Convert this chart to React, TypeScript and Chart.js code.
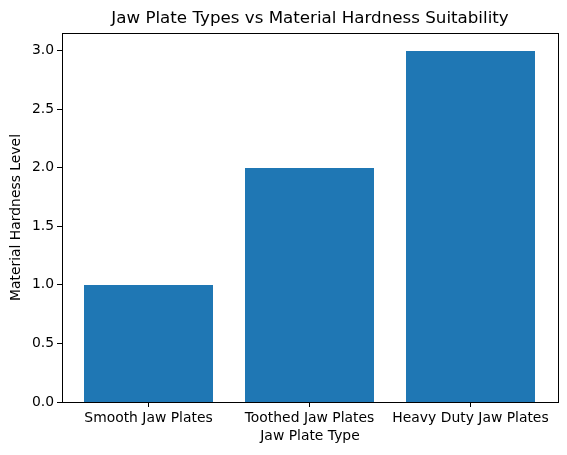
import { useEffect, useRef } from "react"
import { Chart, registerables } from "chart.js"

Chart.register(...registerables)

const plateTypes = ["Smooth Jaw Plates", "Toothed Jaw Plates", "Heavy Duty Jaw Plates"]
const hardnessLevels = [1, 2, 3]
const yTicks = [0, 0.5, 1.0, 1.5, 2.0, 2.5, 3.0]

const FONT = "'DejaVu Sans', sans-serif"

// draw the full box round the plot area, like matplotlib's spines
const frame = {
  id: "frame",
  afterDatasetsDraw(chart: Chart) {
    const { ctx, chartArea } = chart
    ctx.save()
    ctx.strokeStyle = "#000"
    ctx.lineWidth = 1
    ctx.strokeRect(
      Math.round(chartArea.left) + 0.5,
      Math.round(chartArea.top) + 0.5,
      Math.round(chartArea.right - chartArea.left),
      Math.round(chartArea.bottom - chartArea.top)
    )
    ctx.restore()
  },
}

// snap bar edges to whole pixels so they come out crisp
const snapBars = {
  id: "snapBars",
  beforeDatasetsDraw(chart: Chart) {
    chart.getSortedVisibleDatasetMetas().forEach((meta) => {
      meta.data.forEach((el: any) => {
        el.x = Math.round(el.x - 0.5) + 0.5
        el.y = Math.round(el.y)
        el.base = Math.round(el.base)
        el.width = Math.round(el.width)
      })
    })
  },
}

export default function App() {
  const chartRef = useRef<HTMLCanvasElement>(null)
  const chartInstance = useRef<Chart | null>(null)

  useEffect(() => {
    if (!chartRef.current) return
    if (chartInstance.current) chartInstance.current.destroy()
    const ctx = chartRef.current.getContext("2d")
    if (!ctx) return

    chartInstance.current = new Chart(ctx, {
      type: "bar",
      data: {
        datasets: [
          {
            data: hardnessLevels.map((v, i) => ({ x: i, y: v })),
            backgroundColor: "#1f77b4",
            borderColor: "#1f77b4",
            borderWidth: 0,
            inflateAmount: 0,
            barThickness: 129,
          },
        ],
      },
      plugins: [snapBars, frame],
      options: {
        responsive: false,
        animation: false,
        devicePixelRatio: 1,
        layout: { padding: { left: 0, right: 9, top: 0, bottom: 0 } },
        plugins: {
          legend: { display: false },
          tooltip: { enabled: false },
          title: {
            display: true,
            fullSize: false,
            text: "Jaw Plate Types vs Material Hardness Suitability",
            color: "#000",
            font: { family: FONT, size: 16.7, weight: "normal", lineHeight: "20px" },
            padding: { top: 9, bottom: 4 },
          },
        },
        scales: {
          x: {
            type: "linear",
            min: -0.53727,
            max: 2.54348,
            offset: false,
            afterBuildTicks: (axis) => {
              axis.ticks = plateTypes.map((_, i) => ({ value: i }))
            },
            afterFit: (scale) => {
              scale.height = 53
            },
            grid: {
              offset: false,
              drawOnChartArea: false,
              drawTicks: true,
              tickLength: 5,
              color: "#000",
              tickColor: "#000",
            },
            border: { display: false },
            ticks: {
              autoSkip: false,
              maxRotation: 0,
              padding: 3,
              color: "#000",
              font: { family: FONT, size: 13.9 },
              callback: (value) => plateTypes[Number(value)] ?? "",
            },
            title: {
              display: true,
              text: "Jaw Plate Type",
              color: "#000",
              font: { family: FONT, size: 13.9 },
              padding: { top: 0, bottom: 10 },
            },
          },
          y: {
            type: "linear",
            min: 0,
            max: 3.15,
            afterBuildTicks: (axis) => {
              axis.ticks = yTicks.map((v) => ({ value: v }))
            },
            afterFit: (scale) => {
              scale.width = 62
            },
            grid: {
              drawOnChartArea: false,
              drawTicks: true,
              tickLength: 5,
              color: "#000",
              tickColor: "#000",
            },
            border: { display: false },
            ticks: {
              padding: 3,
              color: "#000",
              font: { family: FONT, size: 13.9 },
              callback: (value) => Number(value).toFixed(1),
            },
            title: {
              display: true,
              text: "Material Hardness Level",
              color: "#000",
              font: { family: FONT, size: 13.9 },
              padding: { top: 8, bottom: 0 },
            },
          },
        },
      },
    })

    return () => {
      if (chartInstance.current) {
        chartInstance.current.destroy()
        chartInstance.current = null
      }
    }
  }, [])

  return (
    <div style={{ position: "fixed", left: 0, top: 0, width: 567, height: 455, background: "#fff" }}>
      <canvas ref={chartRef} width={567} height={455} style={{ display: "block" }} />
    </div>
  )
}
